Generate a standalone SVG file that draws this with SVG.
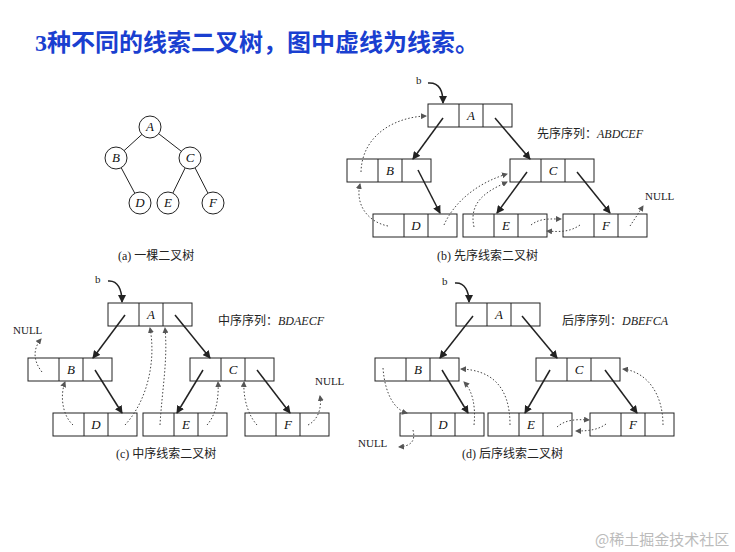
<svg xmlns="http://www.w3.org/2000/svg" width="735" height="552" viewBox="0 0 735 552">
<style>
.lt{font-family:"Liberation Serif",serif;font-style:italic;font-size:13px;text-anchor:middle;fill:#111}
.cj{font-family:"Liberation Serif","Noto Sans CJK SC",serif;font-size:12px;fill:#222}
.nl{font-family:"Liberation Serif",serif;font-size:11px;fill:#222}
.e{stroke:#222;stroke-width:1.5;fill:none;marker-end:url(#ah)}
.t{stroke:#444;stroke-width:1;stroke-dasharray:1.5 2;fill:none;marker-end:url(#dh)}
.c{fill:#fff;stroke:#222}
</style>
<defs>
<marker id="ah" markerWidth="8" markerHeight="8" refX="7" refY="4" orient="auto" markerUnits="userSpaceOnUse"><path d="M0,0L8,4L0,8z" fill="#222"/></marker>
<marker id="dh" markerWidth="6" markerHeight="6" refX="5" refY="3" orient="auto" markerUnits="userSpaceOnUse"><path d="M0,0L6,3L0,6z" fill="#555"/></marker>
<g id="cell"><rect x="0" y="0" width="84" height="23" fill="#fff" stroke="#222" stroke-width="1"/><line x1="31" y1="0" x2="31" y2="23" stroke="#222" stroke-width="1"/><line x1="55" y1="0" x2="55" y2="23" stroke="#222" stroke-width="1"/></g>
</defs>
<rect width="735" height="552" fill="#fff"/>
<text x="35" y="51" font-family="Liberation Serif,'Noto Sans CJK SC',serif" font-size="24" font-weight="bold" fill="#1a3fd0">3种不同的线索二叉树，图中虚线为线索。</text>

<g id="tree-a">
<g id="a-edges" stroke="#222" stroke-width="1"><line x1="150" y1="127" x2="116" y2="158"/><line x1="150" y1="127" x2="190" y2="158"/><line x1="190" y1="158" x2="168" y2="203"/><line x1="190" y1="158" x2="213" y2="203"/><line x1="116" y1="158" x2="140" y2="203"/></g>
<g id="a-A"><circle class="c" cx="150" cy="127" r="11"/><text class="lt" x="150" y="131">A</text></g>
<g id="a-B"><circle class="c" cx="116" cy="158" r="11"/><text class="lt" x="116" y="162">B</text></g>
<g id="a-C"><circle class="c" cx="190" cy="158" r="11"/><text class="lt" x="190" y="162">C</text></g>
<g id="a-D"><circle class="c" cx="140" cy="203" r="11"/><text class="lt" x="140" y="207">D</text></g>
<g id="a-E"><circle class="c" cx="168" cy="203" r="11"/><text class="lt" x="168" y="207">E</text></g>
<g id="a-F"><circle class="c" cx="213" cy="203" r="11"/><text class="lt" x="213" y="207">F</text></g>
<text class="cj" x="118" y="260">(a) 一棵二叉树</text>
</g>

<g id="b-A" transform="translate(428,104)"><use href="#cell"/><text class="lt" x="43" y="16">A</text></g>
<g id="b-B" transform="translate(347,159)"><use href="#cell"/><text class="lt" x="43" y="16">B</text></g>
<g id="b-C" transform="translate(510,159)"><use href="#cell"/><text class="lt" x="43" y="16">C</text></g>
<g id="b-D" transform="translate(373,214)"><use href="#cell"/><text class="lt" x="43" y="16">D</text></g>
<g id="b-E" transform="translate(463,214)"><use href="#cell"/><text class="lt" x="43" y="16">E</text></g>
<g id="b-F" transform="translate(563,214)"><use href="#cell"/><text class="lt" x="43" y="16">F</text></g>
<text class="nl" x="416" y="84">b</text>
<text class="cj" x="537" y="138">先序序列：<tspan font-style="italic" font-family="Liberation Serif,serif">ABDCEF</tspan></text>
<text class="nl" x="645" y="200">NULL</text>
<text class="cj" x="437" y="260">(b) 先序线索二叉树</text>

<g id="c-A" transform="translate(108,303)"><use href="#cell"/><text class="lt" x="43" y="16" font-style="normal">A</text></g>
<g id="c-B" transform="translate(28,358)"><use href="#cell"/><text class="lt" x="43" y="16">B</text></g>
<g id="c-C" transform="translate(190,358)"><use href="#cell"/><text class="lt" x="43" y="16">C</text></g>
<g id="c-D" transform="translate(53,413)"><use href="#cell"/><text class="lt" x="43" y="16">D</text></g>
<g id="c-E" transform="translate(143,413)"><use href="#cell"/><text class="lt" x="43" y="16">E</text></g>
<g id="c-F" transform="translate(245,413)"><use href="#cell"/><text class="lt" x="43" y="16">F</text></g>
<text class="nl" x="95" y="283">b</text>
<text class="cj" x="218" y="325">中序序列：<tspan font-style="italic" font-family="Liberation Serif,serif">BDAECF</tspan></text>
<text class="nl" x="13" y="334">NULL</text>
<text class="nl" x="315" y="385">NULL</text>
<text class="cj" x="116" y="458">(c) 中序线索二叉树</text>

<g id="d-A" transform="translate(456,303)"><use href="#cell"/><text class="lt" x="43" y="16">A</text></g>
<g id="d-B" transform="translate(375,358)"><use href="#cell"/><text class="lt" x="43" y="16">B</text></g>
<g id="d-C" transform="translate(536,358)"><use href="#cell"/><text class="lt" x="43" y="16">C</text></g>
<g id="d-D" transform="translate(400,413)"><use href="#cell"/><text class="lt" x="43" y="16">D</text></g>
<g id="d-E" transform="translate(488,413)"><use href="#cell"/><text class="lt" x="43" y="16">E</text></g>
<g id="d-F" transform="translate(590,413)"><use href="#cell"/><text class="lt" x="43" y="16">F</text></g>
<text class="nl" x="442" y="285">b</text>
<text class="cj" x="562" y="325">后序序列：<tspan font-style="italic" font-family="Liberation Serif,serif">DBEFCA</tspan></text>
<text class="nl" x="358" y="447">NULL</text>
<text class="cj" x="462" y="458">(d) 后序线索二叉树</text>

<g id="connectors">
<path class="e" d="M428,83 C440,82 443,92 443,103"/>
<path class="e" d="M108,281 C118,280 122,290 122,302"/>
<path class="e" d="M455,283 C465,282 469,292 469,302"/>
<path class="e" d="M443,118 L413,159"/>
<path class="e" d="M495,118 L530,159"/>
<path class="e" d="M418,170 L440,213"/>
<path class="e" d="M527,172 L497,213"/>
<path class="e" d="M577,172 L610,213"/>
<path class="t" d="M361,172 C362,135 395,117 426,116"/>
<path class="t" d="M388,226 C368,222 355,205 360,184"/>
<path class="t" d="M444,225 C455,200 480,182 507,174"/>
<path class="t" d="M474,227 C468,200 490,190 507,182"/>
<path class="t" d="M531,225 C540,218 550,219 561,219"/>
<path class="t" d="M580,225 C570,232 560,232 547,231"/>
<path class="t" d="M630,226 C634,220 638,214 643,206"/>
<path class="e" d="M125,315 L93,358"/>
<path class="e" d="M175,315 L210,358"/>
<path class="e" d="M95,370 L122,413"/>
<path class="e" d="M203,370 L177,413"/>
<path class="e" d="M257,370 L290,413"/>
<path class="t" d="M42,372 C34,362 32,350 41,339"/>
<path class="t" d="M73,425 C62,415 60,395 65,382"/>
<path class="t" d="M125,425 C148,400 156,360 150,328"/>
<path class="t" d="M160,425 C162,390 168,360 165,328"/>
<path class="t" d="M207,425 C216,415 219,398 218,382"/>
<path class="t" d="M257,425 C248,415 243,398 244,382"/>
<path class="t" d="M308,425 C318,420 322,408 320,396"/>
<path class="e" d="M473,316 L440,358"/>
<path class="e" d="M522,316 L557,358"/>
<path class="e" d="M442,370 L468,413"/>
<path class="e" d="M550,370 L525,413"/>
<path class="e" d="M605,370 L637,413"/>
<path class="t" d="M383,368 C385,395 395,410 407,413"/>
<path class="t" d="M413,430 C416,442 410,446 399,447"/>
<path class="t" d="M474,425 C476,405 472,390 464,382"/>
<path class="t" d="M510,425 C510,385 490,370 461,369"/>
<path class="t" d="M557,427 C565,420 575,419 589,420"/>
<path class="t" d="M606,424 C598,430 588,431 576,431"/>
<path class="t" d="M663,425 C663,395 648,372 623,369"/>
</g>
<text x="595" y="545" font-family="'Noto Sans CJK SC',sans-serif" font-size="15" fill="#bbb">@稀土掘金技术社区</text>
</svg>
